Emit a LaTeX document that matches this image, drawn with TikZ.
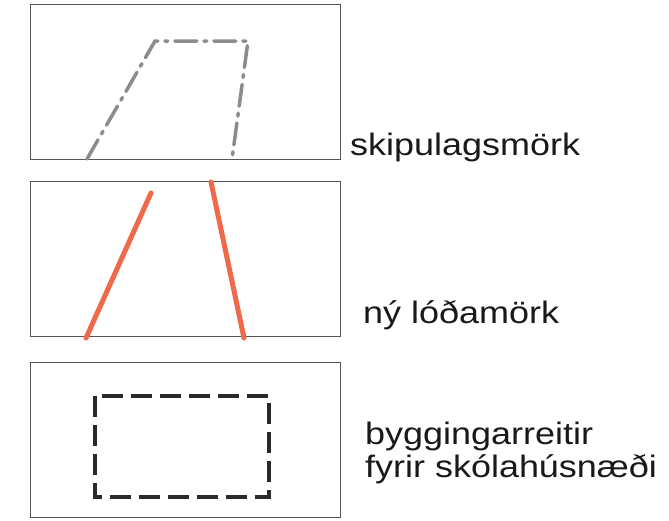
\documentclass[tikz,border=0pt]{standalone}
\usepackage{fontspec}
\setmainfont[FakeStretch=1.16]{Liberation Sans}
\definecolor{framegrey}{HTML}{555555}
\definecolor{plangrey}{HTML}{8C8C8C}
\definecolor{lotred}{HTML}{F0694A}
\definecolor{buildblack}{HTML}{2A2A2A}
\usetikzlibrary{positioning}

\begin{document}
\begin{tikzpicture}[
        x=1pt, y=-1pt,
        panel/.style={draw=framegrey, line width=0.9pt, minimum width=310pt,
                      minimum height=155pt, inner sep=0pt},
        lbl/.style={anchor=base west, inner sep=0pt, text=black!90,
                    font=\fontsize{31}{33}\selectfont},
        planline/.style={plangrey, line width=3.5pt, line cap=round,
                         dash pattern=on 22pt off 7pt on 3pt off 7pt},
        lotline/.style={lotred, line width=5pt, line cap=round},
        buildline/.style={buildblack, line width=3.5pt,
                          dash pattern=on 21pt off 8pt}
      ]
      \useasboundingbox[fill=white] (0,0) rectangle (669,520);

      % three panels
      \node[panel] (plan)  at (185,82)  {};
      \node[panel] (lot)   at (185,259) {};
      \node[panel] (build) at (185,440) {};

      % skipulagsmork
      \coordinate (p1) at (87,159);
      \coordinate (p2) at (155,41);
      \coordinate (p3) at (248,41);
      \coordinate (p4) at (232,159);
      \draw[planline] (p1) -- (p2) -- (p3) -- (p4);

      % ny lodamork
      \coordinate (l1) at (86,338);
      \coordinate (l2) at (151,193);
      \coordinate (l3) at (211,182);
      \coordinate (l4) at (244,338);
      \draw[lotline] (l1) -- (l2);
      \draw[lotline] (l3) -- (l4);

      % byggingarreitur
      \coordinate (b1) at (95,396);
      \coordinate (b2) at (269,497);
      \draw[buildline] (b1) rectangle (b2);

      \node[lbl] (planlbl)  at (350,155) {skipulagsmörk};
      \node[lbl] (lotlbl)   at (363,323) {ný lóðamörk};
      \node[lbl, align=left] (buildlbl) at (365,477)
        {byggingarreitir\\fyrir skólahúsnæði};
    \end{tikzpicture}
\end{document}
